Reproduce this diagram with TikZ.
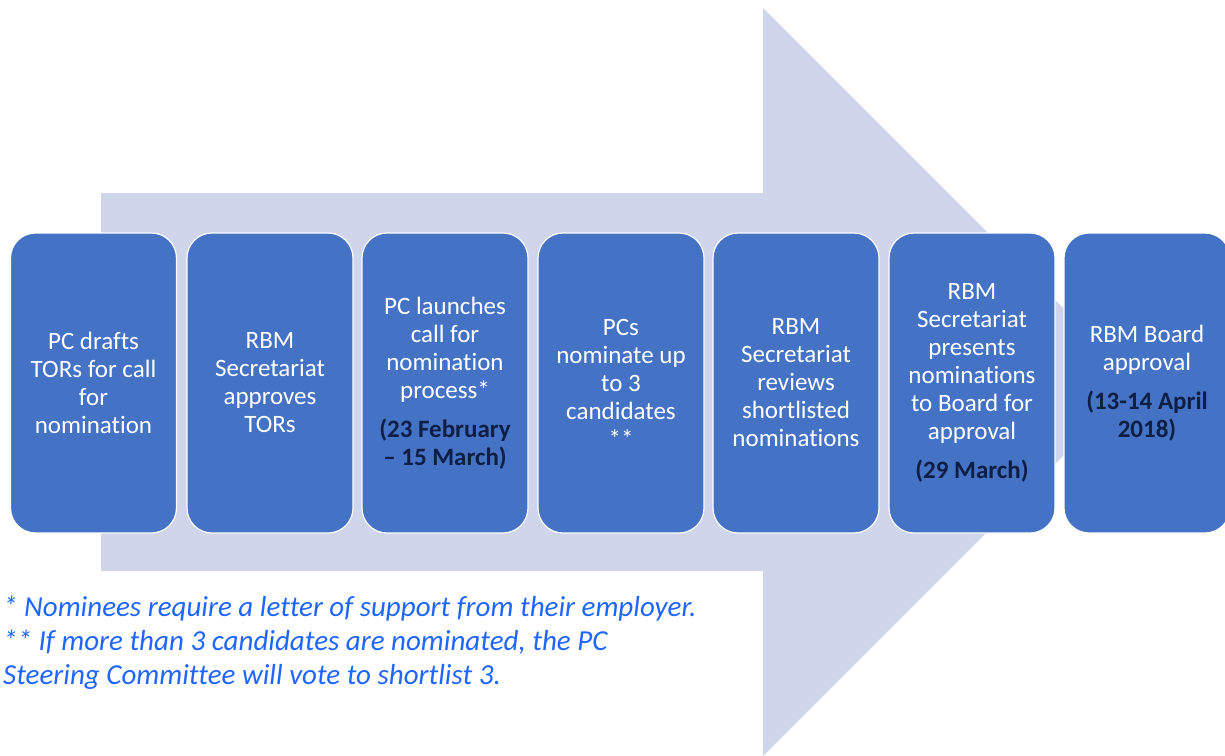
\documentclass[tikz,border=0pt]{standalone}
\usepackage{fontspec}
\setmainfont{Carlito}[Ligatures=NoCommon]
\definecolor{boxblue}{HTML}{4472C4}
\definecolor{arrowgrey}{HTML}{CFD5EA}
\definecolor{datenavy}{HTML}{0E1E45}
\definecolor{noteblue}{HTML}{1F66FF}
\newcommand{\datetxt}[1]{{\bfseries\color{datenavy}#1}}
\begin{document}
\begin{tikzpicture}[y=-1pt,x=1pt]
            \tikzset{
                stepbox/.style={rounded corners=25pt,fill=boxblue,draw=white,line width=1.2pt,
                    minimum width=166pt,minimum height=300pt,inner sep=0pt,
                    text=white,align=center,font=\fontsize{25}{28}\selectfont},
                note/.style={inner sep=0pt,align=left,text=noteblue,
                    font=\fontsize{29}{34}\selectfont\itshape}
            }
            \clip (0,0) rectangle (1225,755);

            % big arrow behind the steps
            \fill[arrowgrey] (101,193) -- (763,193) -- (763,8) -- (1137,382)
                -- (763,756) -- (763,571) -- (101,571) -- cycle;

            \node[stepbox] (st1) at (93.5,383) {PC drafts\\TORs for call\\for\\nomination};
            \node[stepbox] (st2) at (270,383) {RBM\\Secretariat\\approves\\TORs};
            \node[stepbox] (st3) at (445,383) {PC launches\\call for\\nomination\\process*\\[11pt]\datetxt{(23 February}\\\datetxt{– 15 March)}};
            \node[stepbox] (st4) at (621,383) {PCs\\nominate up\\to 3\\candidates\\**};
            \node[stepbox] (st5) at (796,383) {RBM\\Secretariat\\reviews\\shortlisted\\nominations};
            \node[stepbox] (st6) at (972,383) {RBM\\Secretariat\\presents\\nominations\\to Board for\\approval\\[11pt]\datetxt{(29 March)}};
            \node[stepbox] (st7) at (1147,383) {RBM Board\\approval\\[11pt]\datetxt{(13-14 April}\\\datetxt{2018)}};

            \node[note,anchor=north west] (fn) at (3,596) {* Nominees require a letter of support from their employer.\\** If more than 3 candidates are nominated, the PC\\Steering Committee will vote to shortlist 3.};
        \end{tikzpicture}
\end{document}
